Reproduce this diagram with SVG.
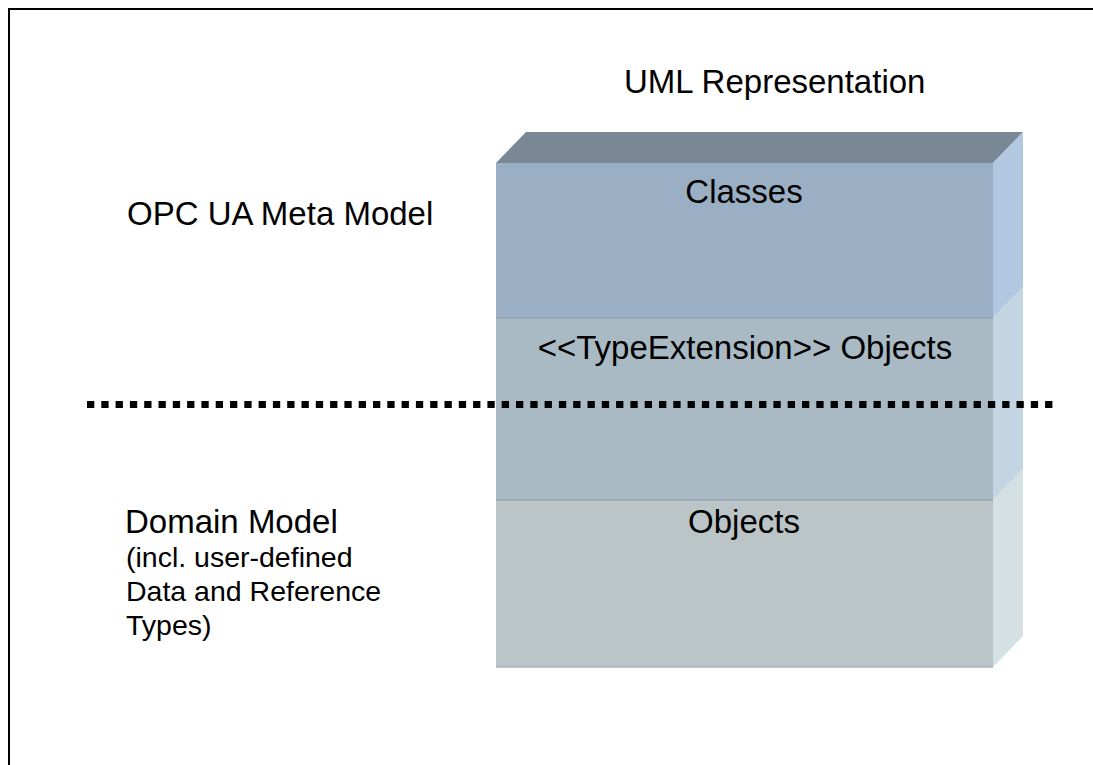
<svg xmlns="http://www.w3.org/2000/svg" width="1093" height="765" viewBox="0 0 1093 765">
<style>
.t{font-family:"Liberation Sans",Arial,sans-serif;fill:#000}
.big{font-size:33px}
.small{font-size:28.5px}
.mid{text-anchor:middle}
.edge{stroke:#8a98a6;stroke-width:1}
</style>
<rect x="0" y="0" width="1093" height="765" fill="#fff"/>
<rect x="9" y="9" width="1100" height="800" fill="none" stroke="#000" stroke-width="2"/>
<g id="title"><text class="t big" x="624" y="93">UML Representation</text></g>
<g id="meta-label"><text class="t big" x="127" y="225">OPC UA Meta Model</text></g>
<g id="domain-label">
<text class="t big" x="125" y="533">Domain Model</text>
<text class="t small" x="126" y="567">(incl. user-defined</text>
<text class="t small" x="126" y="601">Data and Reference</text>
<text class="t small" x="126" y="635">Types)</text>
</g>
<g id="stack">
<polygon points="496,163 526,132 1023,132 993,163" fill="#7a8896"/>
<g id="classes">
<rect x="496" y="163" width="497" height="155" fill="#9aaec4"/>
<polygon points="993,163 1023,132 1023,287 993,318" fill="#b2c8e0"/>
<text class="t big mid" x="744" y="203">Classes</text>
</g>
<g id="type-extension">
<rect x="496" y="318" width="497" height="182" fill="#a9bac4"/>
<polygon points="993,318 1023,287 1023,469 993,500" fill="#c3d4e2"/>
<line class="edge" x1="496" y1="318" x2="993" y2="318"/>
<text class="t big mid" x="745" y="359">&lt;&lt;TypeExtension&gt;&gt; Objects</text>
</g>
<g id="objects">
<rect x="496" y="500" width="497" height="167" fill="#bbc4c6"/>
<polygon points="993,500 1023,469 1023,636 993,667" fill="#d5e0e2"/>
<line class="edge" x1="496" y1="500" x2="993" y2="500"/>
<line x1="496" y1="667" x2="993" y2="667" stroke="#a8b2b6" stroke-width="1.5"/>
<text class="t big mid" x="744" y="533">Objects</text>
</g>
</g>
<g id="connectors">
<line x1="87" y1="404.5" x2="1058" y2="404.5" stroke="#000" stroke-width="7" stroke-dasharray="7.3 7"/>
</g>
</svg>
